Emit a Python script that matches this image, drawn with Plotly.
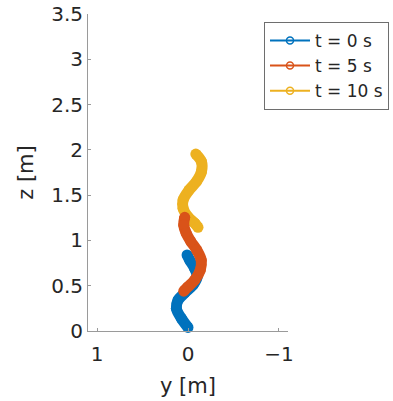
import plotly.graph_objects as go

# Data (y [m], z [m])
labels = ["t = 0 s", "t = 5 s", "t = 10 s"]
colors = ["#0072BD", "#D95319", "#EDB120"]

y_t0 = [0.0, 0.073, 0.128, 0.11, 0.036, -0.056, -0.10, -0.074, -0.02, 0.01]
z_t0 = [0.04, 0.14, 0.25, 0.34, 0.42, 0.51, 0.60, 0.69, 0.78, 0.84]

y_t5 = [0.036, 0.047, 0.02, -0.03, -0.096, -0.146, -0.135, -0.074, 0.003, 0.047]
z_t5 = [1.255, 1.17, 1.08, 0.99, 0.894, 0.78, 0.673, 0.563, 0.486, 0.44]

y_t10 = [-0.086, -0.148, -0.148, -0.093, -0.012, 0.054, 0.054, 0.0, -0.074, -0.11]
z_t10 = [1.953, 1.87, 1.76, 1.65, 1.556, 1.446, 1.354, 1.26, 1.19, 1.145]

x_ticks = [1, 0, -1]
x_tick_text = ["1", "0", "\u22121"]
z_ticks = [0, 0.5, 1, 1.5, 2, 2.5, 3, 3.5]
z_tick_text = ["0", "0.5", "1", "1.5", "2", "2.5", "3", "3.5"]

series = [(y_t0, z_t0), (y_t5, z_t5), (y_t10, z_t10)]

FONT = "DejaVu Sans"
fig = go.Figure()

draw_order = [0, 2, 1]
for i in draw_order:
    ys, zs = series[i]
    fig.add_trace(go.Scatter(
        x=ys, y=zs, mode="lines+markers",
        line=dict(color=colors[i], width=11, shape="spline"),
        marker=dict(color=colors[i], size=11, line=dict(width=0)),
        showlegend=False, hoverinfo="skip", cliponaxis=False))

for i in range(3):
    fig.add_trace(go.Scatter(
        x=[None], y=[None], mode="lines+markers", name=labels[i],
        line=dict(color=colors[i], width=2),
        marker=dict(symbol="circle-open", color=colors[i], size=7,
                    line=dict(width=1.5, color=colors[i]))))

axis_color = "#9a9a9a"
fig.update_layout(
    width=393, height=401,
    margin=dict(l=87.5, r=105, t=14, b=70, autoexpand=False),
    paper_bgcolor="white", plot_bgcolor="white",
    font=dict(family=FONT, color="#262626", size=20),
    showlegend=True,
    legend=dict(x=0.88, xanchor="left", y=0.975, yanchor="top",
                bgcolor="white", bordercolor="#6e6e6e", borderwidth=1,
                font=dict(family=FONT, size=17, color="#262626"),
                itemwidth=40, tracegroupgap=0),
    xaxis=dict(range=[1.1, -1.1], tickvals=x_ticks, ticktext=x_tick_text,
               showline=True, linecolor=axis_color, linewidth=1,
               ticks="inside", ticklen=3, tickcolor=axis_color,
               showgrid=False, zeroline=False, mirror=False,
               automargin=False, tickfont=dict(size=20),
               ticklabelstandoff=5,
               title=dict(text="y [m]", font=dict(size=21), standoff=13)),
    yaxis=dict(range=[0, 3.5001], tickvals=z_ticks, ticktext=z_tick_text,
               showline=True, linecolor=axis_color, linewidth=1,
               ticks="inside", ticklen=3, tickcolor=axis_color,
               showgrid=False, zeroline=False, mirror=False,
               automargin=False, tickfont=dict(size=20),
               title=dict(text="z [m]", font=dict(size=21), standoff=11)),
)
fig.write_html("out.html", config={"displayModeBar": False},
               post_script="document.body.style.margin='0';")
